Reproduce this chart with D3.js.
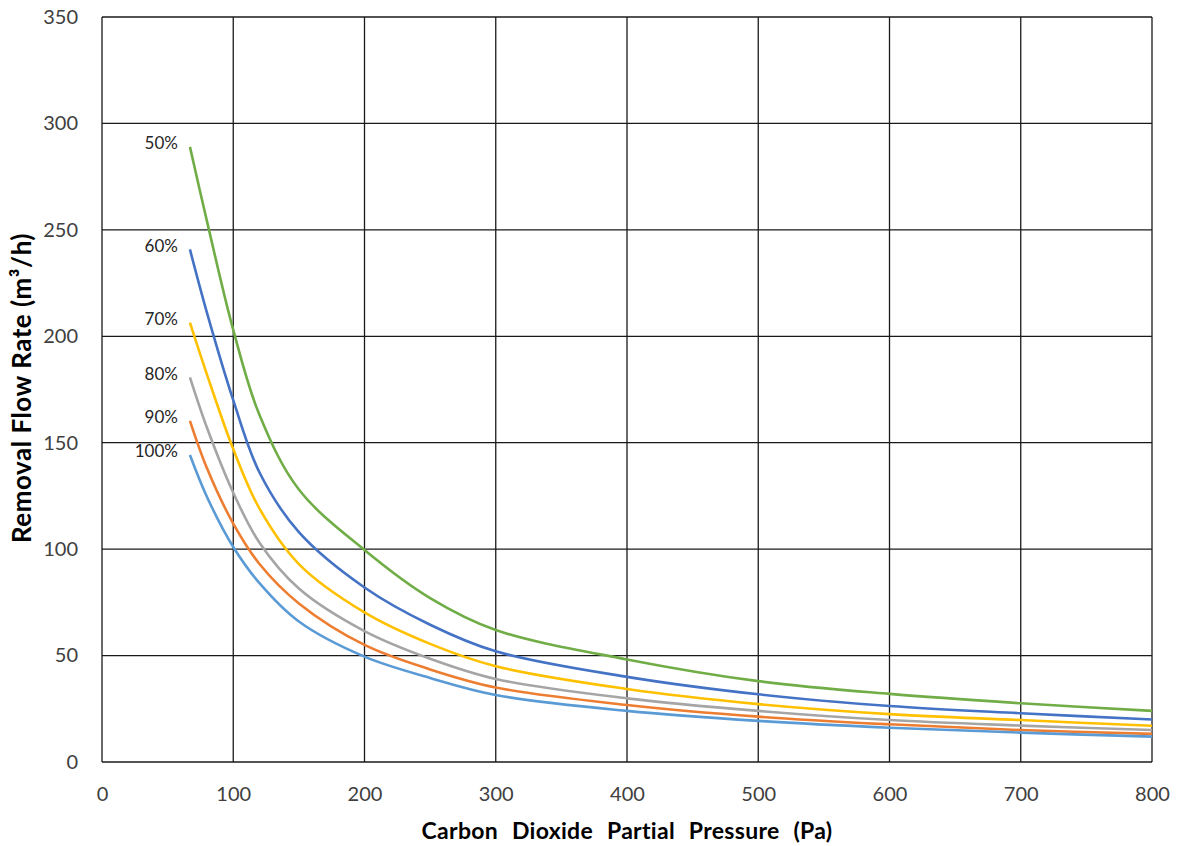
<!DOCTYPE html>
<html>
<head>
<meta charset="utf-8">
<script src="https://cdn.jsdelivr.net/npm/d3@7"></script>
<style>
  body { margin: 0; background: #fff; }
  text { font-family: Lato, "Open Sans", sans-serif; }
</style>
</head>
<body>
<svg id="chart"></svg>
<script>
// pressure points (Pa)
const pressure = [67, 80, 100, 120, 150, 200, 250, 300, 400, 500, 600, 700, 800];

const labels = ["50%", "60%", "70%", "80%", "90%", "100%"];
const colors = ["#70AD47", "#4472C4", "#FFC000", "#A5A5A5", "#ED7D31", "#5B9BD5"];

const flow50 = [289, 254, 203, 163, 128, 99.6, 77, 62, 48.2, 38, 32, 27.6, 24];
const flow60 = [240.8, 211, 170, 136, 108, 82, 64.5, 52, 40, 31.8, 26.3, 22.9, 20];
const flow70 = [206.4, 182, 147, 119, 93, 70.3, 55.5, 45, 34.3, 27.2, 22.5, 19.7, 17];
const flow80 = [180.7, 157, 126.5, 103, 81.5, 61.5, 48.5, 39, 29.9, 24, 19.7, 17.1, 15];
const flow90 = [160.3, 138, 112, 93, 74.5, 55, 43.5, 35, 26.8, 21.3, 17.7, 15, 13.2];
const flow100 = [144.2, 124.5, 101, 84, 66, 49.5, 39.5, 31.5, 24, 19.3, 16.1, 13.8, 11.9];

const xTicks = [0, 100, 200, 300, 400, 500, 600, 700, 800];
const yTicks = [0, 50, 100, 150, 200, 250, 300, 350];

const series = [flow50, flow60, flow70, flow80, flow90, flow100];

const width = 1179, height = 846;
const margin = { top: 17, right: 27, bottom: 84, left: 102 };

const svg = d3.select("#chart").attr("width", width).attr("height", height);

const x = d3.scaleLinear().domain([0, 800]).range([margin.left, width - margin.right]);
const y = d3.scaleLinear().domain([0, 350]).range([height - margin.bottom, margin.top]);

// grid
svg.append("g")
  .selectAll("line")
  .data(xTicks)
  .enter().append("line")
  .attr("x1", d => x(d)).attr("x2", d => x(d))
  .attr("y1", y(0)).attr("y2", y(350))
  .attr("stroke", "#1a1a1a").attr("stroke-width", 1.3);

svg.append("g")
  .selectAll("line")
  .data(yTicks)
  .enter().append("line")
  .attr("x1", x(0)).attr("x2", x(800))
  .attr("y1", d => y(d)).attr("y2", d => y(d))
  .attr("stroke", "#1a1a1a").attr("stroke-width", 1.3);

// tick labels
const xAxis = svg.append("g")
  .attr("transform", `translate(0,${y(0) + 22})`)
  .call(d3.axisBottom(x).tickValues(xTicks).tickSize(0));
xAxis.select(".domain").remove();
xAxis.selectAll("text").attr("font-size", 20).attr("fill", "#404040").attr("font-family", "Lato, sans-serif");

const yAxis = svg.append("g")
  .attr("transform", `translate(${x(0) - 21},0)`)
  .call(d3.axisLeft(y).tickValues(yTicks).tickSize(0));
yAxis.select(".domain").remove();
yAxis.selectAll("text").attr("font-size", 20).attr("fill", "#404040").attr("font-family", "Lato, sans-serif");

// curves
const line = d3.line()
  .x((d, i) => x(pressure[i]))
  .y(d => y(d))
  .curve(d3.curveCatmullRom.alpha(0.5));

svg.append("g")
  .selectAll("path")
  .data(series)
  .enter().append("path")
  .attr("d", line)
  .attr("fill", "none")
  .attr("stroke", (d, i) => colors[i])
  .attr("stroke-width", 2.6);

// percent labels next to the start of each curve
svg.append("g")
  .selectAll("text")
  .data(series)
  .enter().append("text")
  .attr("x", x(pressure[0]) - 12)
  .attr("y", d => y(d[0]) - 2)
  .attr("text-anchor", "end")
  .attr("dominant-baseline", "middle")
  .attr("font-size", 17)
  .attr("fill", "#262626")
  .text((d, i) => labels[i]);

// axis titles
svg.append("text")
  .attr("x", (x(0) + x(800)) / 2)
  .attr("y", 839)
  .attr("text-anchor", "middle")
  .attr("font-size", 23)
  .attr("font-weight", "bold")
  .attr("word-spacing", 8)
  .attr("letter-spacing", 0.3)
  .attr("fill", "#000")
  .text("Carbon Dioxide Partial Pressure (Pa)");

svg.append("text")
  .attr("transform", `translate(31,388) rotate(-90)`)
  .attr("text-anchor", "middle")
  .attr("font-size", 26)
  .attr("font-weight", "bold")
  .attr("letter-spacing", 0.5)
  .attr("fill", "#000")
  .text("Removal Flow Rate (m³/h)");
</script>
</body>
</html>
